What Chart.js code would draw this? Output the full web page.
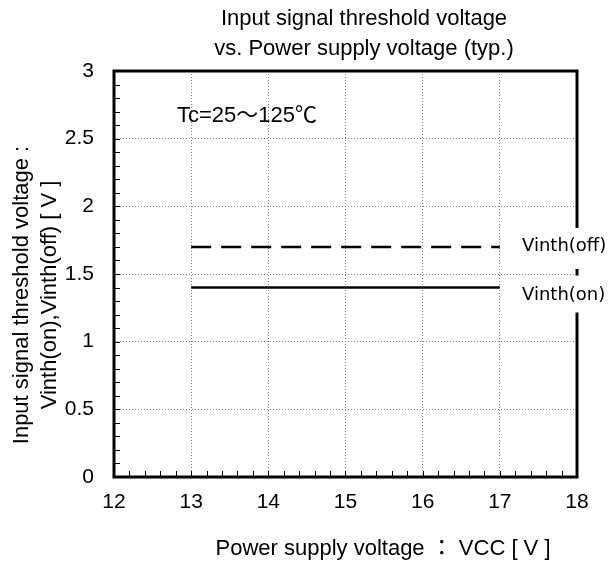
<!DOCTYPE html>
<html>
<head>
<meta charset="utf-8">
<script src="https://cdn.jsdelivr.net/npm/chart.js@4.4.0/dist/chart.umd.min.js"></script>
<style>
  body { margin: 0; background: #fff; }
</style>
</head>
<body>
<canvas id="chart" width="613" height="563"></canvas>
<script>
// Data
const vccPoints = [13, 17];
const vinthOff = [1.7, 1.7];
const vinthOn = [1.4, 1.4];
const seriesNames = ['Vinth(off)', 'Vinth(on)'];
const xTicks = [12, 13, 14, 15, 16, 17, 18];
const yTicks = [0, 0.5, 1, 1.5, 2, 2.5, 3];

const titleLines = ['Input signal threshold voltage', 'vs. Power supply voltage (typ.)'];
const xTitle = 'Power supply voltage ： VCC [ V ]';
const yTitleLines = ['Input signal threshold voltage :', 'Vinth(on),Vinth(off) [ V ]'];
const note = 'Tc=25～125℃';

const FONT = '"Liberation Sans", "Noto Sans CJK JP", sans-serif';
const LABEL_FONT = '"DejaVu Sans", "Noto Sans CJK JP", sans-serif';

const toXY = (ys) => vccPoints.map((x, i) => ({ x: x, y: ys[i] }));

// Kotak, tick kecil, judul dan label
const decorPlugin = {
    id: 'decor',
    afterDraw(chart) {
        const ctx = chart.ctx;
        const a = chart.chartArea;
        const xs = chart.scales.x;
        const ys = chart.scales.y;
        ctx.save();

        // tick kecil sumbu x (0.2) dan y (0.1)
        ctx.strokeStyle = '#000';
        ctx.lineWidth = 1;
        ctx.beginPath();
        for (let v = xTicks[0]; v <= xTicks[xTicks.length - 1] + 1e-9; v += 0.2) {
            const px = Math.round(xs.getPixelForValue(v)) + 0.5;
            ctx.moveTo(px, a.bottom);
            ctx.lineTo(px, a.bottom - 6);
        }
        for (let v = yTicks[0]; v <= yTicks[yTicks.length - 1] + 1e-9; v += 0.1) {
            const py = Math.round(ys.getPixelForValue(v)) + 0.5;
            ctx.moveTo(a.left, py);
            ctx.lineTo(a.left + 6, py);
        }
        ctx.stroke();

        // bingkai tebal
        ctx.lineWidth = 3;
        ctx.strokeRect(a.left, a.top, a.right - a.left, a.bottom - a.top);

        // judul
        ctx.fillStyle = '#000';
        ctx.textAlign = 'center';
        ctx.textBaseline = 'alphabetic';
        ctx.font = '22px ' + FONT;
        ctx.fillText(titleLines[0], 364, 25);
        ctx.fillText(titleLines[1], 364, 55);

        // judul sumbu x
        ctx.fillText(xTitle, 383, 555);

        // judul sumbu y
        ctx.save();
        ctx.translate(28, 295);
        ctx.rotate(-Math.PI / 2);
        ctx.fillText(yTitleLines[0], 0, 0);
        ctx.restore();
        ctx.save();
        ctx.translate(56, 295);
        ctx.rotate(-Math.PI / 2);
        ctx.fillText(yTitleLines[1], 0, 0);
        ctx.restore();

        // catatan suhu
        ctx.textAlign = 'left';
        ctx.fillText(note, 177, 122);

        // label seri dengan latar putih
        ctx.font = '18px ' + LABEL_FONT;
        ctx.textBaseline = 'middle';
        const offY = ys.getPixelForValue(vinthOff[1]);
        const onY = ys.getPixelForValue(vinthOn[1]);
        const boxes = [
            { top: offY - 19, h: 41, text: offY - 1 },
            { top: onY - 12, h: 37, text: onY + 8 }
        ];
        seriesNames.forEach((name, i) => {
            ctx.fillStyle = '#fff';
            ctx.fillRect(519, boxes[i].top, 613 - 519, boxes[i].h);
            ctx.fillStyle = '#000';
            ctx.fillText(name, 522, boxes[i].text);
        });

        ctx.restore();
    }
};

const grid = {
    color: '#808080',
    lineWidth: 1,
    drawTicks: false
};

new Chart(document.getElementById('chart'), {
    type: 'scatter',
    data: {
        datasets: [{
            label: seriesNames[0],
            data: toXY(vinthOff),
            showLine: true,
            borderColor: '#000',
            borderWidth: 2.5,
            borderDash: [20, 10],
            pointRadius: 0
        }, {
            label: seriesNames[1],
            data: toXY(vinthOn),
            showLine: true,
            borderColor: '#000',
            borderWidth: 2.5,
            pointRadius: 0
        }]
    },
    options: {
        responsive: false,
        animation: false,
        layout: { padding: { left: 64, right: 36, top: 71, bottom: 46 } },
        plugins: {
            legend: { display: false },
            tooltip: { enabled: false }
        },
        scales: {
            x: {
                type: 'linear',
                min: xTicks[0],
                max: xTicks[xTicks.length - 1],
                afterFit: (s) => { s.height = 40; },
                afterBuildTicks: (s) => { s.ticks = xTicks.map(v => ({ value: v })); },
                grid: grid,
                border: { display: false, dash: [1, 2] },
                ticks: {
                    padding: 13,
                    color: '#000',
                    font: { size: 21, family: FONT },
                    callback: (v) => String(v)
                }
            },
            y: {
                type: 'linear',
                min: yTicks[0],
                max: yTicks[yTicks.length - 1],
                afterFit: (s) => { s.width = 50; },
                afterBuildTicks: (s) => { s.ticks = yTicks.map(v => ({ value: v })); },
                grid: grid,
                border: { display: false, dash: [1, 2] },
                ticks: {
                    padding: 20,
                    color: '#000',
                    font: { size: 21, family: FONT },
                    callback: (v) => String(v)
                }
            }
        }
    },
    plugins: [decorPlugin]
});
</script>
</body>
</html>
